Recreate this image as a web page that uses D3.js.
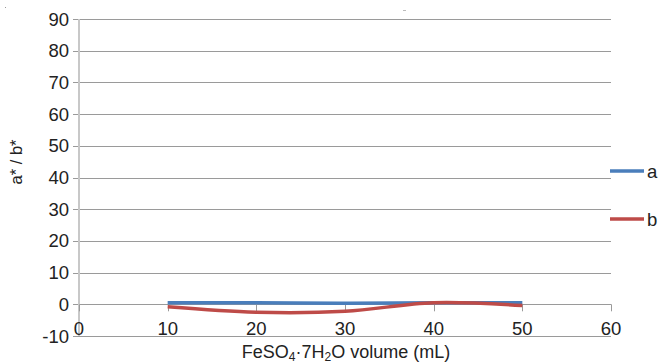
<!DOCTYPE html>
<html><head><meta charset="utf-8">
<script src="https://cdn.jsdelivr.net/npm/d3@7"></script>
<style>body{margin:0;background:#fff}svg{display:block}text{font-family:"Liberation Sans",Arial,sans-serif;fill:#222}</style>
</head><body>
<script>
const volumes = [10, 20, 30, 40, 50];
const aValues = [0.5, 0.5, 0.3, 0.5, 0.5];
const bValues = [-0.8, -2.5, -2.2, 0.5, -0.4];
const xTicks = [0, 10, 20, 30, 40, 50, 60];
const yTicks = [-10, 0, 10, 20, 30, 40, 50, 60, 70, 80, 90];
const seriesNames = ["a", "b"];
const seriesColors = ["#4a7ebb", "#be4b48"];

const W = 659, H = 363;
const svg = d3.select("body").append("svg").attr("width", W).attr("height", H);
const x = d3.scaleLinear().domain([0, 60]).range([79, 611]);
const y = d3.scaleLinear().domain([-10, 90]).range([336, 19]);

// gridlines
svg.append("g").selectAll("line").data(yTicks).join("line")
  .attr("x1", 73).attr("x2", 611)
  .attr("y1", d => Math.round(y(d)) + 0.5).attr("y2", d => Math.round(y(d)) + 0.5)
  .attr("stroke", "#9a9a9a").attr("stroke-width", 1);
// y axis line
svg.append("line").attr("x1", x(0)).attr("x2", x(0)).attr("y1", y(90)).attr("y2", y(-10))
  .attr("stroke", "#c8c8c8").attr("stroke-width", 2);
// x ticks at zero line
svg.append("g").selectAll("line").data(xTicks).join("line")
  .attr("x1", d => Math.round(x(d)) + 0.5).attr("x2", d => Math.round(x(d)) + 0.5)
  .attr("y1", y(0)).attr("y2", y(0) + 7)
  .attr("stroke", "#9a9a9a").attr("stroke-width", 1);

// y labels
svg.append("g").selectAll("text").data(yTicks).join("text")
  .attr("x", 69).attr("y", d => y(d) + 6.5).attr("text-anchor", "end")
  .attr("font-size", 18.5).text(d => d);
// x labels
svg.append("g").selectAll("text").data(xTicks).join("text")
  .attr("x", d => x(d)).attr("y", 335).attr("text-anchor", "middle")
  .attr("font-size", 18.5).text(d => d);

// axis titles
svg.append("text").attr("transform", `translate(22,162) rotate(-90)`)
  .attr("text-anchor", "middle").attr("font-size", 16.5).text("a* / b*");
const xt = svg.append("text").attr("x", 346).attr("y", 358).attr("text-anchor", "middle").attr("font-size", 18);
xt.append("tspan").text("FeSO");
xt.append("tspan").attr("font-size", 12).attr("dy", 3).text("4");
xt.append("tspan").attr("dy", -3).text("·7H");
xt.append("tspan").attr("font-size", 12).attr("dy", 3).text("2");
xt.append("tspan").attr("dy", -3).text("O volume (mL)");

// lines
const line = d3.line().x((d, i) => x(volumes[i])).y(d => y(d)).curve(d3.curveCatmullRom.alpha(0.5));
[aValues, bValues].forEach((vals, i) => {
  svg.append("path").attr("d", line(vals)).attr("fill", "none")
    .attr("stroke", seriesColors[i]).attr("stroke-width", 3.5);
});

// legend
seriesNames.forEach((n, i) => {
  const ly = 171 + i * 48;
  svg.append("line").attr("x1", 610).attr("x2", 644).attr("y1", ly).attr("y2", ly)
    .attr("stroke", seriesColors[i]).attr("stroke-width", 3.5);
  svg.append("text").attr("x", 647).attr("y", ly + 6.5).attr("font-size", 18.5).text(n);
});

// stray marks from source image
svg.append("rect").attr("x", 5).attr("y", 7).attr("width", 1).attr("height", 1).attr("fill", "#999");
svg.append("rect").attr("x", 403).attr("y", 10).attr("width", 3).attr("height", 1).attr("fill", "#bbb");
</script>
</body></html>
